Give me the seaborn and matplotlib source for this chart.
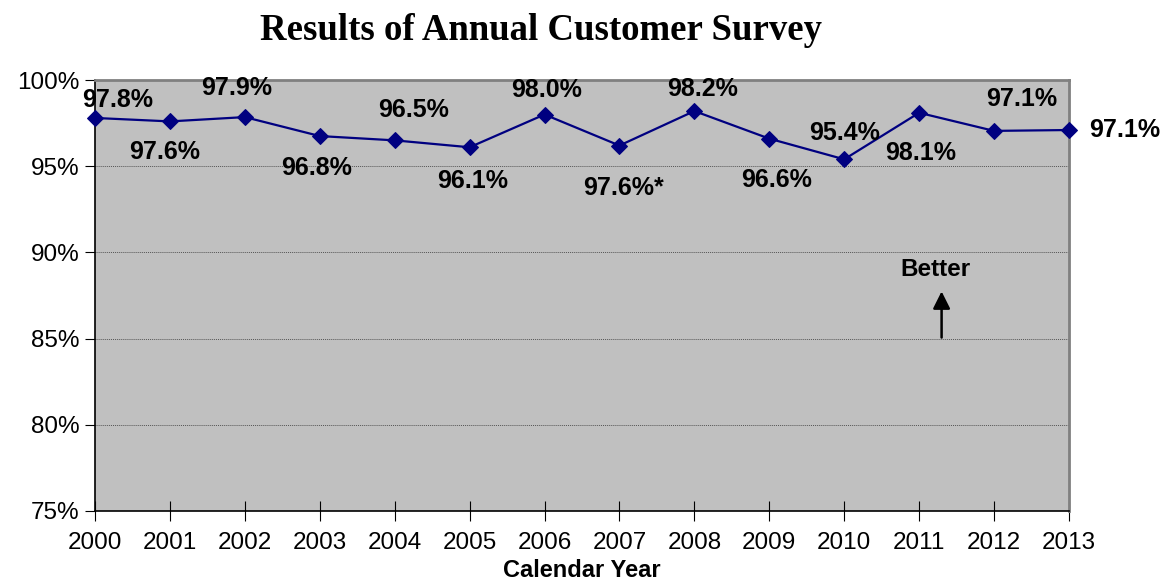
import matplotlib
matplotlib.use("Agg")
import matplotlib.pyplot as plt
from matplotlib.ticker import PercentFormatter
import pandas as pd
import seaborn as sns

years = [2000, 2001, 2002, 2003, 2004, 2005, 2006, 2007, 2008, 2009, 2010, 2011, 2012, 2013]
scores = [97.8, 97.6, 97.85, 96.75, 96.5, 96.1, 98.0, 96.2, 98.2, 96.6, 95.4, 98.1, 97.05, 97.1]
labels = ["97.8%", "97.6%", "97.9%", "96.8%", "96.5%", "96.1%", "98.0%",
          "97.6%*", "98.2%", "96.6%", "95.4%", "98.1%", "97.1%", "97.1%"]

# label offsets in pixels from each point (placement only)
offsets = [(23, 18), (-5, -31), (-8, 29), (-3, -32), (19, 30), (3, -34), (2, 25),
           (4, -42), (8, 22), (7, -41), (0, 26), (2, -40), (28, 32), (56, 0)]

df = pd.DataFrame({"year": years, "score": scores})

sns.set_style("white")
plt.rcParams["font.family"] = ["Liberation Sans", "DejaVu Sans"]
plt.rcParams["text.color"] = "black"
plt.rcParams["axes.labelcolor"] = "black"

fig = plt.figure(figsize=(11.73, 5.85), dpi=100)
ax = fig.add_axes([0.081, 0.1265, 0.8303, 0.7367])
ax.set_facecolor("#C0C0C0")

sns.lineplot(data=df, x="year", y="score", ax=ax, color="#000080", linewidth=1.6,
             marker="D", markersize=8, markeredgecolor="#000080", clip_on=False, zorder=3)

for x, y, lab, (dx, dy) in zip(years, scores, labels, offsets):
    ax.annotate(lab, (x, y), xytext=(dx, dy), textcoords="offset pixels",
                ha="center", va="center", fontsize=18, fontweight="bold",
                color="black", annotation_clip=False)

ax.set_xlim(2000, 2013)
ax.set_ylim(75, 100)
ax.set_xticks(years)
ax.set_yticks([75, 80, 85, 90, 95, 100])
ax.yaxis.set_major_formatter(PercentFormatter(decimals=0))
ax.tick_params(axis="both", labelsize=17.5, colors="black")
ax.tick_params(axis="y", direction="out", length=7, width=0.8, pad=4, left=True)
ax.tick_params(axis="x", direction="inout", length=14, width=0.8, pad=8, bottom=True)

for yv in [80, 85, 90, 95]:
    ax.axhline(yv, color="#555555", linestyle=(0, (1, 1)), linewidth=0.7, zorder=1)

for side in ["left", "bottom"]:
    ax.spines[side].set_color("black")
    ax.spines[side].set_linewidth(1.2)
for side in ["top", "right"]:
    ax.spines[side].set_color("#808080")
    ax.spines[side].set_linewidth(2)

ax.set_xlabel("Calendar Year", fontsize=17, fontweight="bold", labelpad=4, color="black")
ax.set_ylabel("")

ax.annotate("", xy=(2011.3, 87.9), xytext=(2011.3, 84.9),
            arrowprops=dict(arrowstyle="-|>", color="black", lw=1.8, mutation_scale=26))
ax.text(2011.22, 89.0, "Better", ha="center", va="center", fontsize=17.5,
        fontweight="bold", color="black")

fig.text(0.461, 0.948, "Results of Annual Customer Survey", ha="center", va="center",
         fontsize=26.5, fontweight="bold", color="black",
         family=["Liberation Serif", "DejaVu Serif"])

fig.savefig("out.png", dpi=100)
